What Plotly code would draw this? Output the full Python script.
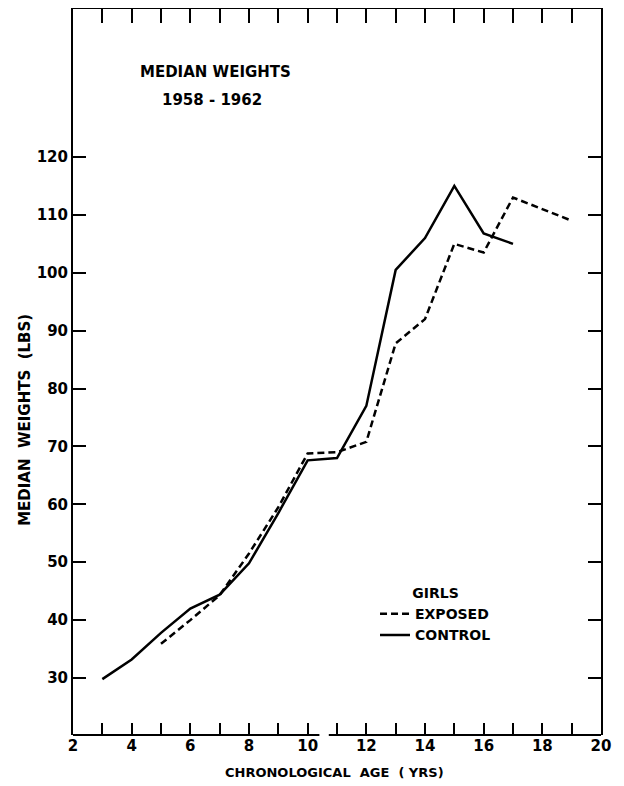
import plotly.graph_objects as go

# median weights (lbs) by chronological age, girls, 1958-1962
control_age = [3, 4, 5, 6, 7, 8, 9, 10, 11, 12, 13, 14, 15, 16, 17]
control_wt = [29.8, 33.2, 37.8, 42.0, 44.4, 49.8, 58.5, 67.6, 68.0, 77.0, 100.5, 106.0, 115.0, 106.8, 105.0]

exposed_age = [5, 6, 7, 8, 9, 10, 11, 12, 13, 14, 15, 16, 17, 19]
exposed_wt = [35.9, 40.0, 44.3, 51.5, 59.5, 68.8, 69.0, 70.8, 87.8, 92.0, 105.0, 103.5, 113.0, 109.0]

x_ticks = list(range(2, 21))
x_labels = [str(v) if v % 2 == 0 else "" for v in x_ticks]
y_ticks = list(range(30, 130, 10))

FONT = "DejaVu Sans"
INK = "black"

fig = go.Figure()
fig.add_trace(go.Scatter(
    x=exposed_age, y=exposed_wt, mode="lines", name="EXPOSED",
    line={"color": INK, "width": 2.5, "dash": "7px,4px"},
))
fig.add_trace(go.Scatter(
    x=control_age, y=control_wt, mode="lines", name="CONTROL",
    line={"color": INK, "width": 2.5},
))
# empty trace so the top axis (ticks only) gets drawn
fig.add_trace(go.Scatter(x=[2, 20], y=[None, None], xaxis="x2", showlegend=False, hoverinfo="skip"))

# page body adds an 8px margin, so the figure is offset inside the window
fig.update_layout(
    width=608,
    height=778,
    margin={"l": 65, "r": 15, "t": 1, "b": 51},
    plot_bgcolor="white",
    paper_bgcolor="white",
    font={"family": FONT, "color": INK, "size": 15, "weight": "bold"},
    xaxis={
        "range": [2, 20],
        "tickvals": x_ticks,
        "ticktext": x_labels,
        "ticks": "inside",
        "ticklen": 12,
        "tickwidth": 2,
        "tickcolor": INK,
        "showgrid": False,
        "zeroline": False,
        "showline": False,
        "tickfont": {"size": 15},
    },
    xaxis2={
        "range": [2, 20],
        "overlaying": "x",
        "side": "top",
        "tickvals": list(range(3, 20)),
        "showticklabels": False,
        "ticks": "inside",
        "ticklen": 14,
        "tickwidth": 2,
        "tickcolor": INK,
        "showline": True,
        "linewidth": 2,
        "linecolor": INK,
        "showgrid": False,
        "zeroline": False,
    },
    yaxis={
        "range": [20.15, 145.57],
        "tickvals": y_ticks,
        "ticks": "inside",
        "ticklen": 13,
        "tickwidth": 2,
        "tickcolor": INK,
        "showline": True,
        "linewidth": 2,
        "linecolor": INK,
        "mirror": "ticks",
        "showgrid": False,
        "zeroline": False,
        "tickfont": {"size": 15},
    },
    showlegend=True,
    legend={
        "x": 0.572,
        "y": 0.2135,
        "xanchor": "left",
        "yanchor": "top",
        "bgcolor": "rgba(0,0,0,0)",
        "font": {"size": 14},
        "title": {"text": "GIRLS", "side": "top center", "font": {"size": 14}},
        "itemwidth": 30,
        "tracegroupgap": 0,
    },
    # bottom axis line, broken between 10 and 11
    shapes=[
        {"type": "line", "xref": "x", "yref": "paper", "x0": 2, "x1": 10.4, "y0": 0, "y1": 0,
         "line": {"color": INK, "width": 2}},
        {"type": "line", "xref": "x", "yref": "paper", "x0": 10.72, "x1": 20, "y0": 0, "y1": 0,
         "line": {"color": INK, "width": 2}},
    ],
    annotations=[
        {"text": "MEDIAN WEIGHTS", "xref": "paper", "yref": "paper", "x": 0.27, "y": 0.913,
         "showarrow": False, "font": {"size": 15}, "xanchor": "center", "yanchor": "middle"},
        {"text": "1958 - 1962", "xref": "paper", "yref": "paper", "x": 0.263, "y": 0.875,
         "showarrow": False, "font": {"size": 15}, "xanchor": "center", "yanchor": "middle"},
        {"text": "MEDIAN  WEIGHTS  (LBS)", "xref": "paper", "yref": "paper", "x": -0.091, "y": 0.434,
         "textangle": -90, "showarrow": False, "font": {"size": 15}, "xanchor": "center", "yanchor": "middle"},
        {"text": "CHRONOLOGICAL  AGE  ( YRS)", "xref": "paper", "yref": "paper", "x": 0.496, "y": -0.0523,
         "showarrow": False, "font": {"size": 13}, "xanchor": "center", "yanchor": "middle"},
    ],
)

fig.write_html("out.html")
